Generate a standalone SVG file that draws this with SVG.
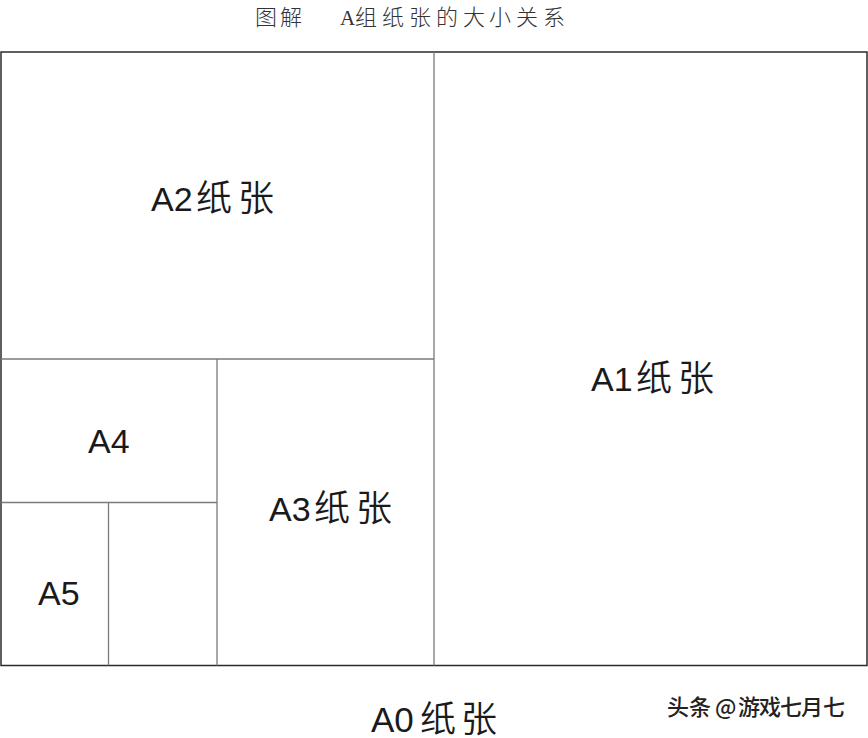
<svg xmlns="http://www.w3.org/2000/svg" width="868" height="738" viewBox="0 0 868 738">
<style>
.bg{fill:#ffffff}
.outer{fill:none;stroke:#2b2b2b;stroke-width:1.5}
.inner{fill:none;stroke:#7a7a7a;stroke-width:1.3}
.lab{font-family:"Liberation Sans","Noto Sans CJK SC",sans-serif;font-size:34px;fill:#1a1a1a}
.cjk{font-family:"Noto Sans CJK SC",sans-serif;font-size:36px;font-weight:350}
.title{font-family:"Liberation Serif","Noto Sans CJK SC",serif;font-size:21px;fill:#333333}
.tc{font-family:"Noto Sans CJK SC",sans-serif;font-weight:300;font-size:22px}
.wm{font-family:"Noto Sans CJK SC",sans-serif;font-size:22px;font-weight:500;fill:#222222}
</style>
<rect class="bg" x="0" y="0" width="868" height="738"/>
<g id="title">
<text class="title" y="25"><tspan class="tc" x="255">图</tspan><tspan class="tc" x="280">解</tspan><tspan x="340">A</tspan><tspan class="tc" x="355">组</tspan><tspan class="tc" x="382">纸</tspan><tspan class="tc" x="409">张</tspan><tspan class="tc" x="436">的</tspan><tspan class="tc" x="463">大</tspan><tspan class="tc" x="489">小</tspan><tspan class="tc" x="516">关</tspan><tspan class="tc" x="543">系</tspan></text>
</g>
<g id="connectors">
<rect class="outer" x="1" y="52" width="866" height="613.5"/>
<line class="inner" x1="434" y1="52" x2="434" y2="665.5"/>
<line class="inner" x1="1" y1="359" x2="434" y2="359"/>
<line class="inner" x1="217" y1="359" x2="217" y2="665.5"/>
<line class="inner" x1="1" y1="502.5" x2="217" y2="502.5"/>
<line class="inner" x1="108.5" y1="502.5" x2="108.5" y2="665.5"/>
</g>
<g id="a2">
<text class="lab" y="211"><tspan x="151">A2</tspan><tspan class="cjk" x="196">纸</tspan><tspan class="cjk" x="238">张</tspan></text>
</g>
<g id="a1">
<text class="lab" y="391"><tspan x="591">A1</tspan><tspan class="cjk" x="636">纸</tspan><tspan class="cjk" x="678">张</tspan></text>
</g>
<g id="a4">
<text class="lab" x="88" y="453">A4</text>
</g>
<g id="a3">
<text class="lab" y="521"><tspan x="269">A3</tspan><tspan class="cjk" x="314">纸</tspan><tspan class="cjk" x="356">张</tspan></text>
</g>
<g id="a5">
<text class="lab" x="38" y="605">A5</text>
</g>
<g id="a0">
<text class="lab" y="732" style="font-size:35px"><tspan x="371">A0</tspan><tspan class="cjk" x="420">纸</tspan><tspan class="cjk" x="461">张</tspan></text>
</g>
<g id="watermark">
<text class="wm" y="715"><tspan x="667">头</tspan><tspan x="689">条</tspan><tspan x="715">@</tspan><tspan x="738">游</tspan><tspan x="759">戏</tspan><tspan x="780">七</tspan><tspan x="801">月</tspan><tspan x="823">七</tspan></text>
</g>
</svg>
